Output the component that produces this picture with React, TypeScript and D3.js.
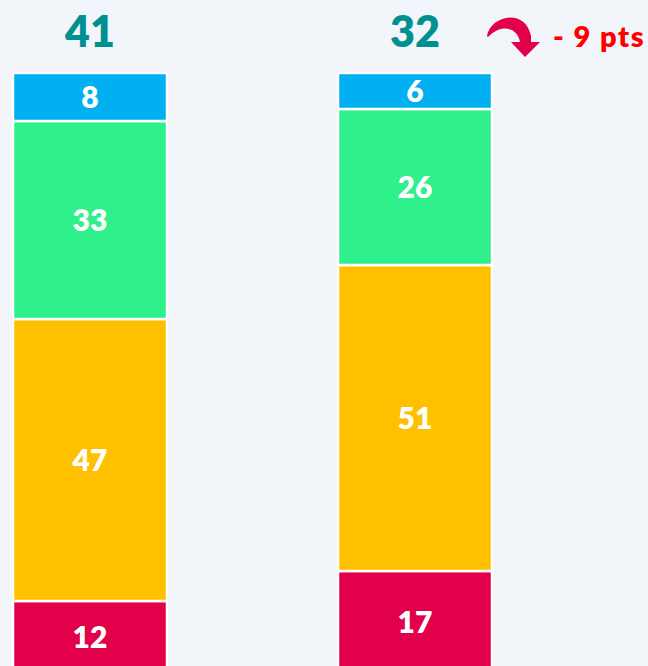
import React from "react";
import * as d3 from "d3";

const groups = ["A", "B"];
const totals = [41, 32];
const seriesKeys = ["bottom", "lower", "upper", "top"];
const bottomValues = [12, 17];
const lowerValues = [47, 51];
const upperValues = [33, 26];
const topValues = [8, 6];
const seriesColors = ["#E2004A", "#FFC000", "#2FF08B", "#00B0F0"];
const deltaLabel = "- 9 pts";

const W = 648;
const H = 666;
const FONT = "Lato, 'Open Sans', sans-serif";

export default function App() {
  const rows = groups.map((g, i) => ({
    group: g,
    bottom: bottomValues[i],
    lower: lowerValues[i],
    upper: upperValues[i],
    top: topValues[i],
  }));
  const stack = d3.stack<any>().keys(seriesKeys);
  const layers = stack(rows);

  const x = d3.scaleBand<string>().domain(groups).range([13, 492]).paddingInner(171 / 325).paddingOuter(0);
  const y = d3.scaleLinear().domain([0, 100]).range([673, 73]);

  return (
    <svg
      width={W}
      height={H}
      style={{ position: "absolute", left: 0, top: 0, display: "block" }}
    >
      <rect x={0} y={0} width={W} height={H} fill="#F2F5FA" />
      {layers.map((layer, li) => (
        <g key={li}>
          {layer.map((d, i) => {
            const x0 = x(groups[i])!;
            const y0 = y(d[1]);
            const y1 = y(d[0]);
            return (
              <g key={i}>
                <rect
                  x={x0}
                  y={y0}
                  width={x.bandwidth()}
                  height={y1 - y0}
                  fill={seriesColors[li]}
                  stroke="#FFFFFF"
                  strokeWidth={2.5}
                />
                <text
                  x={x0 + x.bandwidth() / 2}
                  y={(y0 + y1) / 2 + 11}
                  textAnchor="middle"
                  fill="#FFFFFF"
                  fontFamily={FONT}
                  fontWeight={800}
                  fontSize={30}
                >
                  {d[1] - d[0]}
                </text>
              </g>
            );
          })}
        </g>
      ))}
      {groups.map((g, i) => (
        <text
          key={g}
          x={x(g)! + x.bandwidth() / 2}
          y={47}
          textAnchor="middle"
          fill="#00908F"
          fontFamily={FONT}
          fontWeight={800}
          fontSize={43}
        >
          {totals[i]}
        </text>
      ))}
      <path
        d="M487,36 C490,16 525,7 531,36 L531,42 L540,42 L525,57 L511,42 L520,42 C518,29 503,22 488,37 Z"
        fill="#E2004A"
      />
      <text
        x={553}
        y={47}
        fill="#FF0000"
        fontFamily={FONT}
        fontWeight={800}
        fontSize={29}
        letterSpacing={1.5}
      >
        {deltaLabel}
      </text>
    </svg>
  );
}
